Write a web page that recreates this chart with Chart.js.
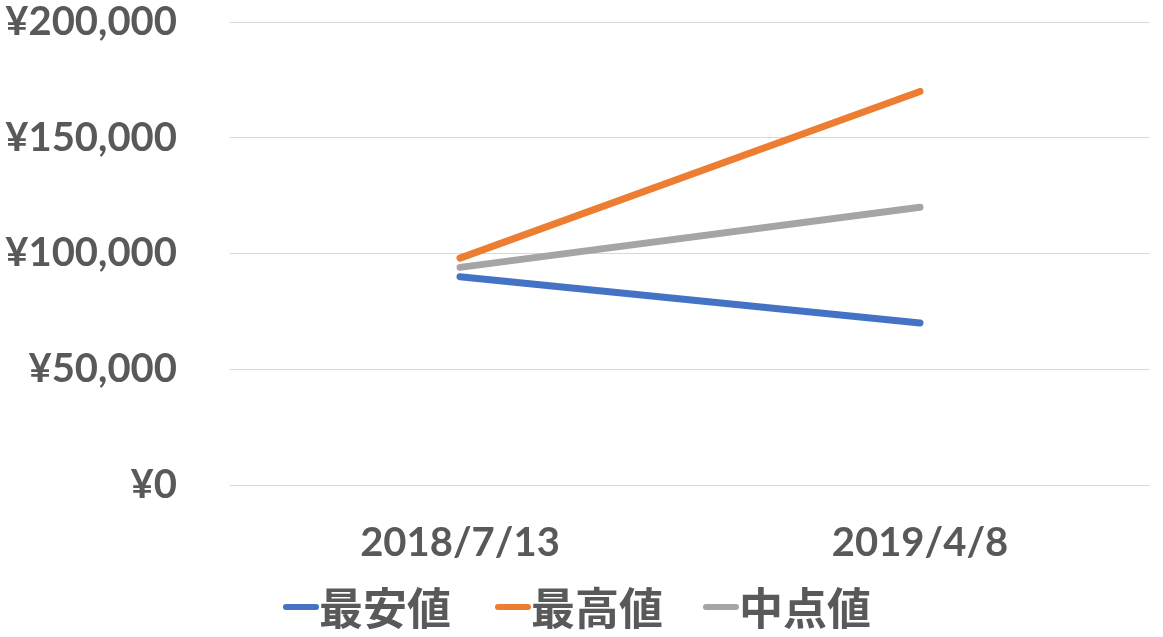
<!DOCTYPE html>
<html>
<head>
<meta charset="utf-8">
<script src="https://cdn.jsdelivr.net/npm/chart.js@4/dist/chart.umd.min.js"></script>
<style>
  html, body { margin: 0; padding: 0; background: #fff; }
  #wrap { width: 1163px; height: 637px; }
</style>
</head>
<body>
<div id="wrap"><canvas id="c"></canvas></div>
<script>
// データ
const dates = ['2018/7/13', '2019/4/8'];
const seriesNames = ['最安値', '最高値', '中点値'];
const lowest = [90000, 70000];
const highest = [98000, 170000];
const middle = [94000, 120000];
const colors = ['#4472C4', '#ED7D31', '#A5A5A5'];

const textColor = '#595959';
const numFont = 'Lato, "Open Sans", sans-serif';
const cjkFont = '"Noto Sans CJK JP", sans-serif';

// 凡例を自前で描く (線マーカーと文字の間が詰まっているため)
const legendPlugin = {
  id: 'bottomLegend',
  afterDraw(chart) {
    const ctx = chart.ctx;
    const y = 607;
    const starts = [283, 495, 703];
    ctx.save();
    ctx.font = 'bold 44px ' + cjkFont;
    ctx.textBaseline = 'middle';
    ctx.fillStyle = textColor;
    chart.data.datasets.forEach((ds, i) => {
      const x = starts[i];
      ctx.strokeStyle = ds.borderColor;
      ctx.lineWidth = 6;
      ctx.lineCap = 'round';
      ctx.beginPath();
      ctx.moveTo(x + 3, y);
      ctx.lineTo(x + 33, y);
      ctx.stroke();
      ctx.fillText(ds.label, x + 36, y + 1);
    });
    ctx.restore();
  }
};

const chart = new Chart(document.getElementById('c'), {
  type: 'line',
  data: {
    labels: dates,
    datasets: [
      { label: seriesNames[0], data: lowest, borderColor: colors[0] },
      { label: seriesNames[1], data: highest, borderColor: colors[1] },
      { label: seriesNames[2], data: middle, borderColor: colors[2] }
    ].map(d => Object.assign(d, {
      borderWidth: 7,
      borderCapStyle: 'round',
      pointRadius: 0,
      fill: false,
      tension: 0
    }))
  },
  options: {
    responsive: true,
    maintainAspectRatio: false,
    animation: false,
    layout: { padding: { top: 22, right: 13, bottom: 0, left: 0 } },
    plugins: {
      legend: { display: false },
      tooltip: { enabled: false }
    },
    scales: {
      x: {
        offset: true,
        grid: { display: false },
        border: { display: false },
        ticks: {
          color: textColor,
          font: { family: numFont, size: 40, weight: 'bold' },
          padding: 26,
          maxRotation: 0
        },
        afterFit(scale) { scale.height = 152; }
      },
      y: {
        min: 0,
        max: 200000,
        // 目盛り線は透明にして、ラベルとの間隔として使う
        grid: { color: '#D9D9D9', lineWidth: 1, drawTicks: true, tickLength: 53, tickColor: 'rgba(0,0,0,0)' },
        border: { display: false },
        ticks: {
          stepSize: 50000,
          color: textColor,
          font: { family: numFont, size: 40, weight: 'bold', lineHeight: 1.0 },
          padding: 0,
          callback: v => '¥' + v.toLocaleString('en-US')
        },
        afterFit(scale) { scale.width = 230; }
      }
    }
  },
  plugins: [legendPlugin]
});
</script>
</body>
</html>
